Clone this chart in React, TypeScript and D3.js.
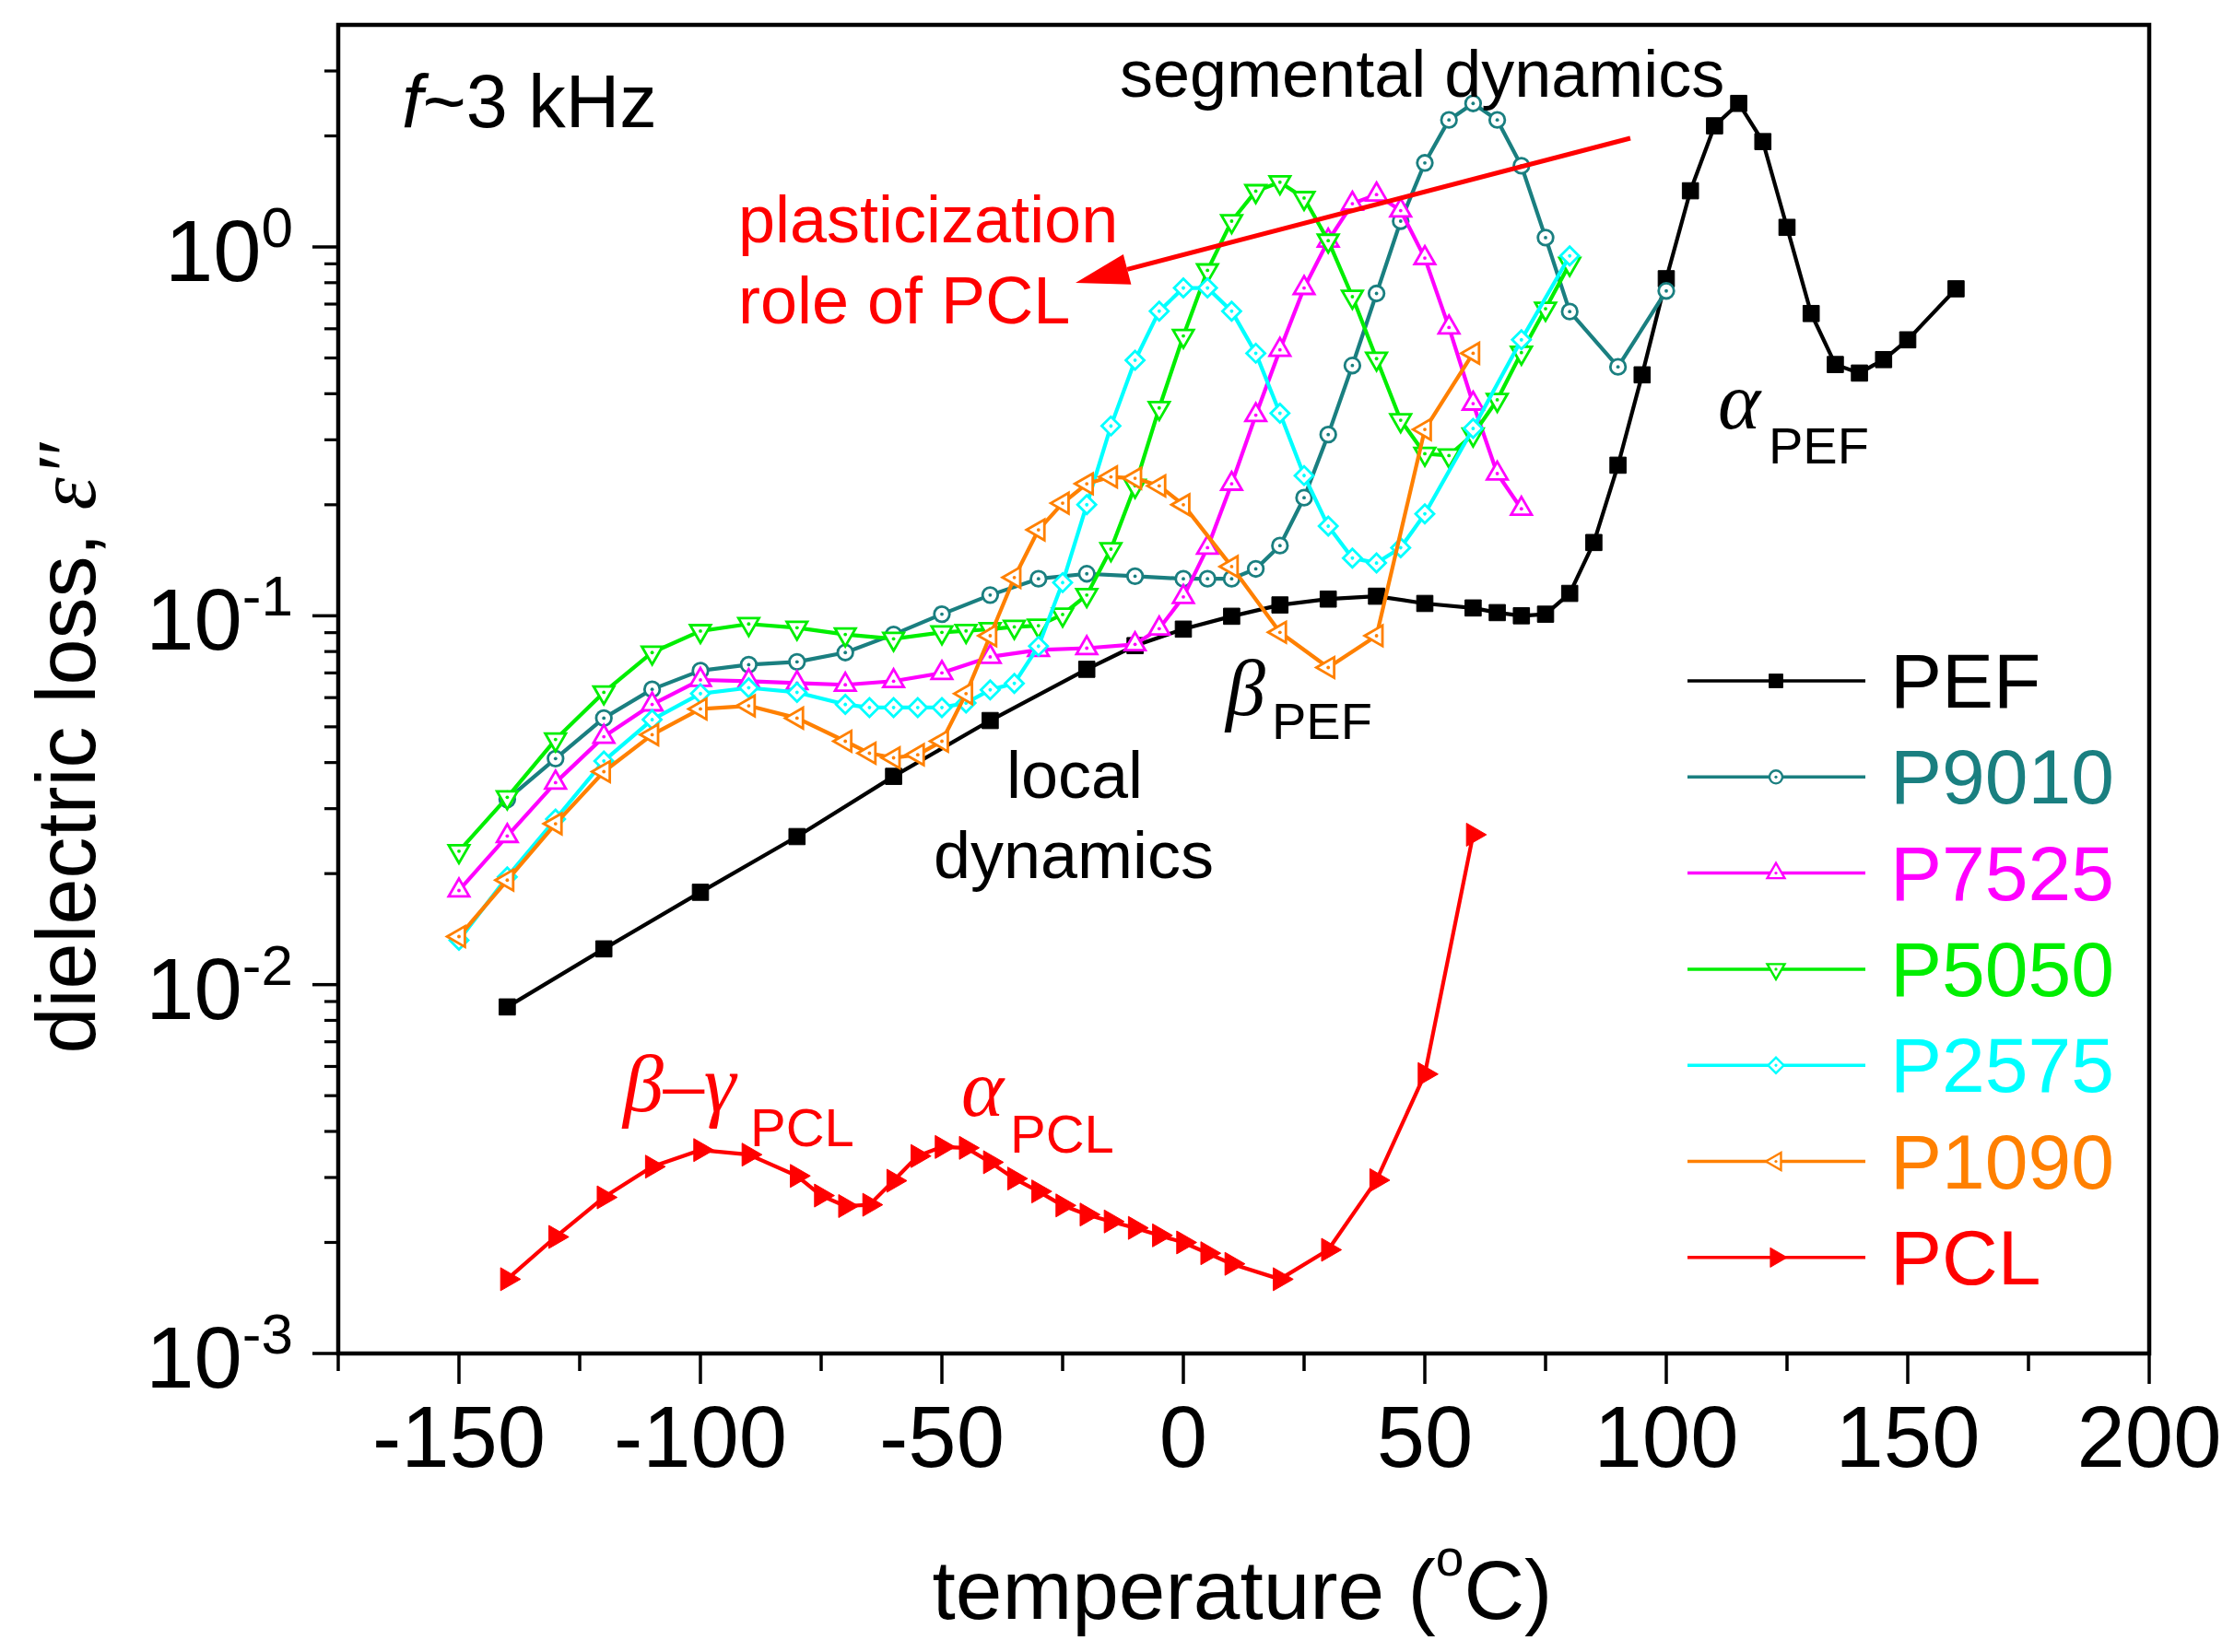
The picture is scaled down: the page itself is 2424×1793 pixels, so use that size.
import * as d3 from 'd3';

// temperatures (°C) and dielectric loss values
const PEF_T = [-140, -120, -100, -80, -60, -40, -20, -10, 0, 10, 20, 30, 40, 50, 60, 65, 70, 75, 80, 85, 90, 95, 100, 105, 110, 115, 120, 125, 130, 135, 140, 145, 150, 160];
const PEF_V = [0.0087, 0.0125, 0.0178, 0.0252, 0.0367, 0.052, 0.0716, 0.083, 0.092, 0.0997, 0.107, 0.111, 0.113, 0.108, 0.105, 0.102, 0.1, 0.101, 0.115, 0.158, 0.256, 0.45, 0.82, 1.42, 2.13, 2.45, 1.93, 1.13, 0.66, 0.48, 0.455, 0.495, 0.56, 0.77];

const P9010_T = [-140, -130, -120, -110, -100, -90, -80, -70, -60, -50, -40, -30, -20, -10, 0, 5, 10, 15, 20, 25, 30, 35, 40, 45, 50, 55, 60, 65, 70, 75, 80, 90, 100];
const P9010_V = [0.0318, 0.041, 0.0528, 0.0632, 0.071, 0.0737, 0.075, 0.0795, 0.089, 0.101, 0.1138, 0.126, 0.13, 0.128, 0.126, 0.126, 0.126, 0.134, 0.155, 0.209, 0.31, 0.477, 0.748, 1.175, 1.69, 2.21, 2.45, 2.21, 1.66, 1.06, 0.668, 0.473, 0.76];

const P7525_T = [-150, -140, -130, -120, -110, -100, -90, -80, -70, -60, -50, -40, -30, -20, -10, -5, 0, 5, 10, 15, 20, 25, 30, 35, 40, 45, 50, 55, 60, 65, 70];
const P7525_V = [0.018, 0.0253, 0.0353, 0.047, 0.0575, 0.067, 0.0665, 0.0657, 0.065, 0.0665, 0.07, 0.0774, 0.0808, 0.0817, 0.0837, 0.0923, 0.1125, 0.153, 0.228, 0.35, 0.526, 0.774, 1.04, 1.31, 1.387, 1.255, 0.933, 0.605, 0.376, 0.243, 0.195];

const P5050_T = [-150, -140, -130, -120, -110, -100, -90, -80, -70, -60, -50, -45, -40, -35, -30, -25, -20, -15, -10, -5, 0, 5, 10, 15, 20, 25, 30, 35, 40, 45, 50, 55, 60, 65, 70, 75, 80];
const P5050_V = [0.023, 0.0322, 0.0462, 0.062, 0.0795, 0.0909, 0.095, 0.0928, 0.089, 0.0866, 0.0902, 0.091, 0.092, 0.0933, 0.094, 0.1008, 0.1138, 0.1516, 0.225, 0.366, 0.574, 0.864, 1.175, 1.417, 1.498, 1.357, 1.04, 0.733, 0.498, 0.339, 0.275, 0.272, 0.31, 0.385, 0.517, 0.68, 0.9];

const P2575_T = [-150, -140, -130, -120, -110, -100, -90, -80, -70, -65, -60, -55, -50, -45, -40, -35, -30, -25, -20, -15, -10, -5, 0, 5, 10, 15, 20, 25, 30, 35, 40, 45, 50, 60, 70, 80];
const P2575_V = [0.0132, 0.0196, 0.0281, 0.0404, 0.0523, 0.0615, 0.0638, 0.062, 0.0575, 0.0564, 0.0564, 0.0564, 0.0564, 0.058, 0.063, 0.0656, 0.0827, 0.123, 0.2, 0.327, 0.493, 0.67, 0.774, 0.774, 0.67, 0.515, 0.354, 0.24, 0.175, 0.1434, 0.139, 0.153, 0.189, 0.322, 0.56, 0.946];

const P1090_T = [-150, -140, -130, -120, -110, -100, -90, -80, -70, -65, -60, -55, -50, -45, -40, -35, -30, -25, -20, -15, -10, -5, 0, 10, 20, 30, 40, 50, 60];
const P1090_V = [0.0135, 0.0192, 0.0273, 0.0378, 0.0476, 0.0559, 0.057, 0.0528, 0.0457, 0.0424, 0.0412, 0.042, 0.0457, 0.0615, 0.0883, 0.127, 0.171, 0.202, 0.228, 0.238, 0.236, 0.225, 0.2, 0.136, 0.0902, 0.0724, 0.0883, 0.32, 0.515];

const PCL_T = [-140, -130, -120, -110, -100, -90, -80, -75, -70, -65, -60, -55, -50, -45, -40, -35, -30, -25, -20, -15, -10, -5, 0, 5, 10, 20, 30, 40, 50, 60];
const PCL_V = [0.00159, 0.00207, 0.00265, 0.00321, 0.00356, 0.00346, 0.00303, 0.00268, 0.00251, 0.00253, 0.00294, 0.00343, 0.00363, 0.00361, 0.0033, 0.00298, 0.00275, 0.00252, 0.00238, 0.00228, 0.00219, 0.00209, 0.002, 0.00187, 0.00175, 0.00159, 0.00191, 0.00295, 0.00572, 0.0255];

const SERIES_NAMES = ['PEF', 'P9010', 'P7525', 'P5050', 'P2575', 'P1090', 'PCL'];
const SERIES_COLORS = ['#000000', '#1a7f80', '#ff00ff', '#00ee00', '#00ffff', '#ff8000', '#ff0000'];
const SERIES_MARKERS = ['square', 'circle', 'triUp', 'triDown', 'diamond', 'triLeft', 'triRight'];
const SERIES_T = [PEF_T, P9010_T, P7525_T, P5050_T, P2575_T, P1090_T, PCL_T];
const SERIES_V = [PEF_V, P9010_V, P7525_V, P5050_V, P2575_V, P1090_V, PCL_V];

const X_TICKS = [-150, -100, -50, 0, 50, 100, 150, 200];
const Y_DECADES = [1e-3, 1e-2, 1e-1, 1];
const Y_EXP = ['-3', '-2', '-1', '0'];

const W = 2424;
const H = 1793;
const sans = '"Liberation Sans", Arial, Helvetica, sans-serif';
const serif = '"Liberation Serif", "Times New Roman", serif';

const x = d3.scaleLinear().domain([-175, 200]).range([367, 2332]);
const y = d3.scaleLog().domain([1e-3, 4]).range([1469, 27]);

function markerPath(kind: string) {
  const sym = d3.symbol();
  if (kind === 'square') return { d: sym.type(d3.symbolSquare).size(310)(), rot: 0 };
  if (kind === 'circle') return { d: sym.type(d3.symbolCircle).size(215)(), rot: 0 };
  if (kind === 'diamond') return { d: sym.type(d3.symbolSquare).size(200)(), rot: 45 };
  const tri = sym.type(d3.symbolTriangle).size(kind === 'triRight' ? 270 : 215)();
  const rot = kind === 'triDown' ? 180 : kind === 'triLeft' ? -90 : kind === 'triRight' ? 90 : 0;
  return { d: tri, rot };
}

function Marker({ kind, cx, cy, color, k = 1 }: { kind: string; cx: number; cy: number; color: string; k?: number }) {
  const { d, rot } = markerPath(kind);
  const filled = kind === 'square' || kind === 'triRight';
  return (
    <g transform={`translate(${cx},${cy}) scale(${k}) rotate(${rot})`}>
      <path d={d || ''} fill={filled ? color : '#fff'} stroke={color} strokeWidth={filled ? 1 : 2.8} />
      {!filled && <circle r={1.9} fill={color} />}
    </g>
  );
}

export default function App() {
  const line = d3.line<[number, number]>().x(d => x(d[0])).y(d => y(d[1]));

  const minorX = d3.range(-175, 200, 50);
  const minorY: number[] = [];
  Y_DECADES.forEach(dec => {
    for (let k = 2; k <= 9; k++) if (dec * k < 4) minorY.push(dec * k);
  });

  const legendY = (i: number) => 739 + i * 104.3;

  // arrow geometry
  const ax1 = 1769, ay1 = 150, ax2 = 1167, ay2 = 307;
  const ang = Math.atan2(ay2 - ay1, ax2 - ax1);
  const hl = 58, hw = 17;
  const bx = ax2 - hl * Math.cos(ang), by = ay2 - hl * Math.sin(ang);
  const head = `M${ax2},${ay2} L${bx - hw * Math.sin(ang)},${by + hw * Math.cos(ang)} L${bx + hw * Math.sin(ang)},${by - hw * Math.cos(ang)} Z`;

  return (
    <svg width={W} height={H} style={{ position: 'absolute', left: 0, top: 0, background: '#fff' }} fontFamily={sans}>
      <rect x={0} y={0} width={W} height={H} fill="#fff" />

      {/* series */}
      {SERIES_NAMES.map((name, i) => {
        const pts = SERIES_T[i].map((t, j) => [t, SERIES_V[i][j]] as [number, number]);
        return (
          <g key={name}>
            <path d={line(pts) || ''} fill="none" stroke={SERIES_COLORS[i]} strokeWidth={4.2} strokeLinejoin="round" />
            {pts.map((p, j) => (
              <Marker key={j} kind={SERIES_MARKERS[i]} cx={x(p[0])} cy={y(p[1])} color={SERIES_COLORS[i]} />
            ))}
          </g>
        );
      })}

      {/* frame */}
      <rect x={x(-175)} y={y(4)} width={x(200) - x(-175)} height={y(1e-3) - y(4)} fill="none" stroke="#000" strokeWidth={4.5} />

      {/* x ticks */}
      {X_TICKS.map(t => (
        <g key={t}>
          <line x1={x(t)} x2={x(t)} y1={1469} y2={1502} stroke="#000" strokeWidth={3.5} />
          <text x={x(t)} y={1592} fontSize={94} textAnchor="middle">{t}</text>
        </g>
      ))}
      {minorX.map(t => (
        <line key={t} x1={x(t)} x2={x(t)} y1={1469} y2={1488} stroke="#000" strokeWidth={3.5} />
      ))}

      {/* y ticks */}
      {Y_DECADES.map((v, i) => (
        <g key={v}>
          <line x1={339} x2={367} y1={y(v)} y2={y(v)} stroke="#000" strokeWidth={3.5} />
          <text x={318} y={y(v) + 37} fontSize={94} textAnchor="end">
            10<tspan fontSize={62} dy={-37}>{Y_EXP[i]}</tspan>
          </text>
        </g>
      ))}
      {minorY.map(v => (
        <line key={v} x1={352} x2={367} y1={y(v)} y2={y(v)} stroke="#000" strokeWidth={3.2} />
      ))}

      {/* axis titles */}
      <text x={1348} y={1757} fontSize={91} textAnchor="middle">
        temperature (<tspan fontSize={55} dy={-47}>o</tspan><tspan dy={47}>C)</tspan>
      </text>
      <text transform="translate(103,812) rotate(-90)" fontSize={90} textAnchor="middle">
        dielectric loss, <tspan fontFamily={serif} fontStyle="italic">ε″</tspan>
      </text>

      {/* annotations */}
      <text x={436} y={138} fontSize={81}>
        <tspan fontStyle="italic">f</tspan>~3 kHz
      </text>
      <text x={1215} y={105} fontSize={72}>segmental dynamics</text>
      <text x={801} y={263} fontSize={72} fill="#ff0000">plasticization</text>
      <text x={801} y={351} fontSize={72} fill="#ff0000">role of PCL</text>
      <line x1={ax1} y1={ay1} x2={bx} y2={by} stroke="#ff0000" strokeWidth={5} />
      <path d={head} fill="#ff0000" />

      <text x={1166} y={866} fontSize={72} textAnchor="middle">local</text>
      <text x={1165} y={953} fontSize={72} textAnchor="middle">dynamics</text>

      <text x={1330} y={776} fontSize={86} fontFamily={serif} fontStyle="italic">β</text>
      <text x={1380} y={802} fontSize={56}>PEF</text>

      <text x={1864} y={465} fontSize={88} fontFamily={serif} fontStyle="italic">α</text>
      <text x={1919} y={503} fontSize={56}>PEF</text>

      <text x={676} y={1206} fontSize={88} fontFamily={serif} fontStyle="italic" fill="#ff0000">β–γ</text>
      <text x={814} y={1244} fontSize={58} fill="#ff0000">PCL</text>

      <text x={1043} y={1211} fontSize={88} fontFamily={serif} fontStyle="italic" fill="#ff0000">α</text>
      <text x={1096} y={1251} fontSize={58} fill="#ff0000">PCL</text>

      {/* legend */}
      {SERIES_NAMES.map((name, i) => (
        <g key={name}>
          <line x1={1831} x2={2024} y1={legendY(i)} y2={legendY(i)} stroke={SERIES_COLORS[i]} strokeWidth={3.5} />
          <Marker kind={SERIES_MARKERS[i]} cx={1927} cy={legendY(i)} color={SERIES_COLORS[i]} k={0.85} />
          <text x={2051} y={legendY(i) + 29} fontSize={84} fill={SERIES_COLORS[i]}>{name}</text>
        </g>
      ))}
    </svg>
  );
}
